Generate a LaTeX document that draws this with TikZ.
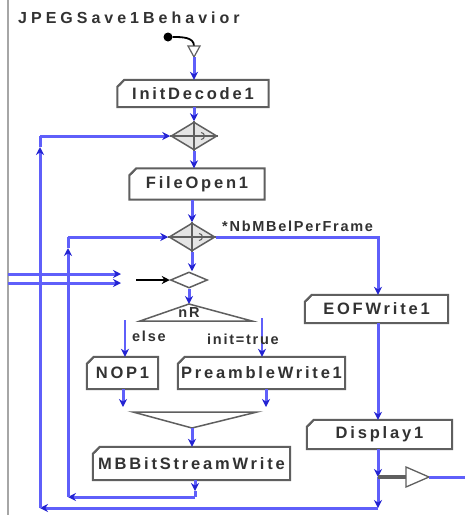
\documentclass[tikz,border=0pt]{standalone}
\usepackage{fontspec}
\setmainfont{Liberation Sans}
\newfontfamily\lblfont[LetterSpace=17]{Liberation Sans}
\newfontfamily\guardfont[LetterSpace=12]{Liberation Sans}
\newfontfamily\ttlfont[LetterSpace=25]{Liberation Sans}
\usetikzlibrary{shapes.geometric,arrows.meta,calc}
\definecolor{flowblue}{RGB}{95,95,250}
\definecolor{tipblue}{RGB}{35,35,210}
\definecolor{edgegray}{RGB}{95,95,95}
\definecolor{inkgray}{RGB}{50,50,50}
\tikzset{
  flow/.style={draw=flowblue, line width=3pt,
    -{Stealth[length=8pt,width=8pt,color=tipblue]}},
  plainflow/.style={draw=flowblue, line width=3pt},
  boxline/.style={draw=edgegray, line width=2pt},
  actbox/.style={inner sep=0pt, text=inkgray,
    font=\lblfont\bfseries\fontsize{16.5}{17}\selectfont},
  gate/.style={diamond, draw=edgegray, line width=1.5pt, fill=gray!20,
    inner sep=0pt, minimum width=46pt, minimum height=28pt},
  smallgate/.style={diamond, draw=edgegray, line width=1.5pt,
    inner sep=0pt, minimum width=37pt, minimum height=16pt},
  guard/.style={text=inkgray, inner sep=1pt,
    font=\guardfont\bfseries\fontsize{14.5}{15}\selectfont},
}
% action box outline with folded top-left corner
\newcommand\actframe[1]{%
  \draw[boxline] ($(#1.north west)+(0,7)$) |- (#1.south east)
     |- ($(#1.north west)+(7,0)$) -- cycle;
  \draw[draw=edgegray, line width=1.1pt] ($(#1.north west)+(7,0)$)
     -- ($(#1.north west)+(3,5)$) -- ($(#1.north west)+(0,7)$);}
% cross marks inside a decision diamond
\newcommand\gatecross[1]{%
  \draw[edgegray, line width=1.2pt] (#1.north) -- (#1.south) (#1.west) -- (#1.east);
  \draw[edgegray, line width=1pt] ($(#1.center)+(7,-3.5)$) arc[start angle=90, end angle=-90, radius=3.5pt];}
\begin{document}
\begin{tikzpicture}[x=1pt, y=-1pt]
\useasboundingbox (0,0) rectangle (465,515);
\fill[white] (0,0) rectangle (465,515);
% frame edge
\draw[gray!70, line width=2pt] (8,0) -- (8,515);

% title
\node[anchor=west, text=inkgray, inner sep=0pt,
  font=\ttlfont\bfseries\fontsize{16}{17}\selectfont] (title) at (18,18) {JPEGSave1Behavior};

% action boxes
\node[actbox, minimum width=151pt, minimum height=27pt] (init) at (193,93.5) {InitDecode1};
\node[actbox, minimum width=135pt, minimum height=31pt] (open) at (197,184) {FileOpen1};
\node[actbox, minimum width=143pt, minimum height=28pt] (eof) at (376.5,309) {EOFWrite1};
\node[actbox, minimum width=71pt, minimum height=32pt] (nop) at (122.5,373) {NOP1};
\node[actbox, minimum width=167pt, minimum height=32pt] (pre) at (261.5,373) {PreambleWrite1};
\node[actbox, minimum width=145pt, minimum height=29pt] (disp) at (379.5,434.5) {Display1};
\node[actbox, minimum width=197pt, minimum height=33pt] (mb) at (191.5,463.5) {MBBitStreamWrite};
\foreach \b in {init,open,eof,nop,pre,disp,mb} {\actframe{\b}}

% decision diamonds
\node[gate] (d1) at (194,136) {};
\node[gate] (d2) at (192,237) {};
\node[smallgate] (d3) at (189,280) {};
\gatecross{d1}
\gatecross{d2}

% start marker
\node[circle, fill=black, minimum size=9pt, inner sep=0pt] (start) at (168,37) {};
\coordinate (stin) at (194,46);
\coordinate (stout) at (194,57);
\draw[black, line width=1.8pt] (start) to[out=0, in=90] (stin);
\draw[edgegray, line width=1.2pt, fill=white] (188,46) -- (200,46) -- (stout) -- cycle;
\draw[flow] (stout) -- (init.north -| stout);

% main column
\draw[flow] (init.south -| d1) -- (d1.north);
\draw[flow] (d1.south) -- (open.north -| d1);
\draw[flow] (open.south -| d2) -- (d2.north);
\draw[flow] (d2.south) -- (d3.north -| d2);
\node[guard, anchor=west] (cnt) at (221,226) {*NbMBelPerFrame};
\draw[flow] (d2.east) -| (eof.north -| 378,0);
\draw[flow] (eof.south -| 378,0) -- (disp.north -| 378,0);

% inputs from the left into the small diamond
\coordinate (ina) at (8,274);
\coordinate (inaend) at (121,274);
\coordinate (inb) at (8,283);
\coordinate (inbend) at (121,283);
\coordinate (blk) at (136,280);
\draw[flow] (ina) -- (inaend);
\draw[flow] (inb) -- (inbend);
\draw[black, line width=1.7pt, -{Stealth[length=8pt,width=8pt]}] (blk) -- (d3.west);

% fork
\coordinate (fk) at (189,304);
\coordinate (fkl) at (140,321);
\coordinate (fkr) at (252,321);
\draw[flow] (d3.south) -- (fk);
\draw[edgegray, line width=1.5pt] (fkl) -- (fk) -- (fkr) -- cycle;
\node[guard] (fklbl) at (189,313) {nR};
\coordinate (brl) at (125,320);
\coordinate (brr) at (262,318);
\draw[flow, line width=2pt] (brl) -- (brl |- nop.north);
\draw[flow, line width=2pt] (brr) -- (brr |- pre.north);
\node[guard, anchor=west] (elselbl) at (131,336) {else};
\node[guard, anchor=west] (truelbl) at (206,339) {init=true};

% join
\coordinate (jnl) at (133,412);
\coordinate (jnr) at (257,412);
\coordinate (jn) at (192,428);
\coordinate (nopend) at (123,407);
\coordinate (preend) at (266,407);
\draw[flow] (nop.south -| nopend) -- (nopend);
\draw[flow] (pre.south -| preend) -- (preend);
\draw[edgegray, line width=1.5pt] (jnl) -- (jnr) -- (jn) -- cycle;
\draw[flow] (jn) -- (mb.north -| jn);

% inner loop back to the second diamond
\coordinate (il1) at (195,491);
\coordinate (il2) at (68,497);
\coordinate (il3) at (68,237);
\draw[flow] (mb.south -| il1) -- (il1);
\draw[plainflow] (il1) -- (195,497);
\draw[flow] (195,497) -- (il2);
\draw[flow] (il2) -- (il3 |- 0,248);
\draw[plainflow] (il3 |- 0,248) -- (il3);
\draw[flow] (il3) -- (d2.west);

% right column down to the outer loop
\coordinate (jr) at (378,477);
\coordinate (or1) at (378,508);
\coordinate (or2) at (40,508);
\coordinate (or3) at (40,136);
\draw[flow] (disp.south -| jr) -- (jr);
\draw[flow] (jr) -- (or1);
\draw[flow] (or1) -- (or2);
\draw[flow] (or2) -- (40,147);
\draw[plainflow] (40,147) -- (or3);
\draw[flow] (or3) -- (d1.west);

% output
\coordinate (outa) at (406,477);
\coordinate (outtip) at (429,477);
\coordinate (outend) at (465,477);
\draw[edgegray, line width=3.5pt] (jr) -- (outa);
\draw[edgegray, line width=1.3pt, fill=white] (406,467) -- (outtip) -- (406,487) -- cycle;
\draw[plainflow] (outtip) -- (outend);
\end{tikzpicture}
\end{document}
